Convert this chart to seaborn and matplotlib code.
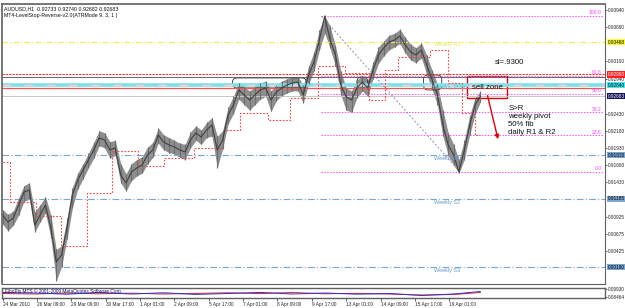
import matplotlib
matplotlib.use("Agg")
import matplotlib.pyplot as plt
import seaborn as sns
import pandas as pd
from matplotlib.patches import Rectangle, FancyBboxPatch

sns.set_theme(style="white")
plt.rcParams['font.family'] = ['Liberation Sans', 'DejaVu Sans']

# ---------------- data ----------------
bar_step = 5
close_prices = [
    0.90951, 0.90849, 0.90907, 0.91097, 0.91286, 0.91316, 0.90805, 0.90951, 0.91097, 0.90762,
    0.90266, 0.90368, 0.90762, 0.91243, 0.91461, 0.91607, 0.91753, 0.91899, 0.92074, 0.92045,
    0.91899, 0.91928, 0.91534, 0.91418, 0.91578, 0.91636, 0.91680, 0.91826, 0.91899, 0.92118,
    0.92015, 0.91972, 0.91943, 0.91899, 0.91870, 0.92045, 0.92147, 0.92088, 0.92190, 0.92263,
    0.91899, 0.92045, 0.92409, 0.92555, 0.92774, 0.92701, 0.92628, 0.92701, 0.92774, 0.92803,
    0.92628, 0.92744, 0.92803, 0.92847, 0.92876, 0.92890, 0.92701, 0.92992, 0.93182, 0.93503,
    0.93850, 0.93503, 0.93284, 0.92847, 0.92672, 0.92628, 0.92803, 0.92890, 0.92803, 0.93065,
    0.93284, 0.93386, 0.93473, 0.93503, 0.93561, 0.93430, 0.93328, 0.93284, 0.93357, 0.93138,
    0.92919, 0.92701, 0.92263, 0.91972, 0.91826, 0.91580, 0.91899, 0.92263, 0.92555, 0.92683,
]
high_prices = [
    0.91030, 0.90960, 0.91010, 0.91200, 0.91380, 0.91420, 0.91000, 0.91100, 0.91220, 0.90950,
    0.90450, 0.90500, 0.90900, 0.91350, 0.91560, 0.91700, 0.91850, 0.92010, 0.92180, 0.92150,
    0.92020, 0.92040, 0.91700, 0.91550, 0.91700, 0.91760, 0.91800, 0.91940, 0.92010, 0.92220,
    0.92120, 0.92080, 0.92040, 0.92000, 0.91980, 0.92160, 0.92250, 0.92190, 0.92300, 0.92370,
    0.92100, 0.92180, 0.92520, 0.92680, 0.92880, 0.92820, 0.92760, 0.92820, 0.92880, 0.92900,
    0.92760, 0.92850, 0.92900, 0.92940, 0.92960, 0.92970, 0.92840, 0.93120, 0.93330, 0.93650,
    0.93860, 0.93700, 0.93420, 0.93050, 0.92800, 0.92760, 0.92920, 0.92980, 0.92920, 0.93180,
    0.93400, 0.93490, 0.93570, 0.93600, 0.93660, 0.93540, 0.93440, 0.93390, 0.93460, 0.93280,
    0.93060, 0.92860, 0.92480, 0.92150, 0.91980, 0.91760, 0.92040, 0.92400, 0.92660, 0.92760,
]
low_prices = [
    0.90820, 0.90720, 0.90800, 0.90950, 0.91150, 0.91180, 0.90700, 0.90850, 0.90980, 0.90620,
    0.89990, 0.90200, 0.90600, 0.91050, 0.91330, 0.91480, 0.91640, 0.91780, 0.91960, 0.91930,
    0.91780, 0.91820, 0.91420, 0.91300, 0.91450, 0.91520, 0.91560, 0.91700, 0.91790, 0.92000,
    0.91900, 0.91860, 0.91840, 0.91790, 0.91760, 0.91930, 0.92040, 0.91980, 0.92080, 0.92100,
    0.91640, 0.91920, 0.92280, 0.92430, 0.92640, 0.92560, 0.92480, 0.92560, 0.92640, 0.92680,
    0.92460, 0.92620, 0.92690, 0.92730, 0.92760, 0.92760, 0.92580, 0.92860, 0.93050, 0.93350,
    0.93600, 0.93380, 0.93120, 0.92700, 0.92480, 0.92450, 0.92660, 0.92760, 0.92680, 0.92940,
    0.93160, 0.93270, 0.93360, 0.93400, 0.93450, 0.93310, 0.93210, 0.93170, 0.93240, 0.93000,
    0.92780, 0.92560, 0.92100, 0.91820, 0.91680, 0.91560, 0.91760, 0.92120, 0.92420, 0.92600,
]
bars = [i * bar_step for i in range(len(close_prices))]

# LevelStop-Reverse step line (bar index where each level starts, level price)
stop_bars = [0, 7, 31, 54, 79, 102, 126, 150, 178, 205, 221, 247, 268, 294, 319, 341, 356, 368, 398, 415, 428, 440, 445]
stop_levels = [0.91724, 0.91141, 0.90937, 0.90499, 0.91272, 0.91884, 0.91666, 0.91782, 0.91928, 0.92190,
               0.92438, 0.92336, 0.92657, 0.93124, 0.93021, 0.92628, 0.93065, 0.93255, 0.93357, 0.92876,
               0.92438, 0.92118, 0.92118]

# Fibonacci retracement
fib_start_bar, fib_end_bar = 297, 426
fib_high, fib_low = 0.93850, 0.91578
fib_names = ["100.0", "61.8", "50.0", "38.2", "23.6", "0.0"]
fib_prices = [0.93850, 0.92982, 0.92714, 0.92446, 0.92114, 0.91578]

# Pivot / horizontal levels
weekly_r1 = 0.93468
sl_level = 0.93000
gray_level = 0.92963
weekly_pivot = 0.92840
daily_level = 0.92803
current_price = 0.92683
weekly_s1 = 0.91820
weekly_s2 = 0.91185
weekly_s3 = 0.90190

yticks = [0.93940, 0.93690, 0.93190, 0.92940, 0.92430, 0.92180, 0.91930, 0.91680, 0.91430,
          0.90925, 0.90675, 0.90425]
ytick_labels = ["0.93940", "0.93690", "0.93190", "0.92940", "0.92430", "0.92180", "0.91930",
                "0.91680", "0.91430", "0.90925", "0.90675", "0.90425"]

time_labels = ["24 Mar 2010", "26 Mar 09:00", "29 Mar 09:00", "30 Mar 17:00", "1 Apr 01:00",
               "2 Apr 09:00", "5 Apr 17:00", "7 Apr 01:00", "8 Apr 09:00", "9 Apr 17:00",
               "13 Apr 01:00", "14 Apr 09:00", "15 Apr 17:00", "19 Apr 01:00"]
bars_per_label = 32

# indicator panel
ind_bars = [0, 30, 60, 90, 120, 150, 180, 210, 240, 270, 300, 330, 360, 390, 420, 445]
ind_red = [0.45, 0.40, 0.50, 0.42, 0.48, 0.40, 0.46, 0.52, 0.44, 0.55, 0.42, 0.47, 0.40, 0.30, 0.35, 0.55]
ind_blue = [0.55, 0.50, 0.38, 0.55, 0.40, 0.52, 0.36, 0.45, 0.56, 0.40, 0.50, 0.38, 0.45, 0.25, 0.40, 0.65]

# ---------------- figure ----------------
W, H = 625, 308
fig = plt.figure(figsize=(W / 100, H / 100), dpi=100)
fig.patch.set_facecolor("white")

ax = fig.add_axes([2 / W, 1 - 284 / H, 603 / W, 280 / H])
ax.set_facecolor("white")
xmax = 561
ax.set_xlim(-0.5, xmax)
ax.set_ylim(0.89945, 0.94027)

# horizontal levels
ax.axhline(weekly_r1, color="#f0f040", lw=0.8, ls=(0, (5, 2, 1, 2)))
ax.axhline(sl_level, color="#ff3030", lw=0.8, ls=(0, (2, 1)))
ax.axhline(gray_level, color="#505050", lw=0.6)
ax.axhline(weekly_pivot, color="#7fe0e8", lw=2.6)
ax.axhline(weekly_pivot, color="#ffd0d0", lw=1.0, ls=(0, (6, 10)))
ax.axhline(daily_level, color="#ff5050", lw=0.9)
ax.axhline(current_price, color="#c8c8c8", lw=0.7)
for lv in (weekly_s1, weekly_s2, weekly_s3):
    ax.axhline(lv, color="#7aa6d0", lw=0.8, ls=(0, (6, 2, 1, 2)))

# fib levels
for nm, fp in zip(fib_names, fib_prices):
    ax.plot([fib_start_bar, xmax - 2], [fp, fp], color="#ff50ff", lw=0.7, ls=(0, (1.5, 1.5)))
    ax.text(xmax - 3, fp + 0.0001, nm, color="#ff40ff", fontsize=3.6, ha="right", va="bottom")
ax.plot([fib_start_bar, fib_end_bar], [fib_high, fib_low], color="#8c8cb0", lw=0.7, ls=(0, (2, 2)))

# stop-reverse step line
stop_df = pd.DataFrame({"bar": stop_bars, "level": stop_levels})
ax.step(stop_df["bar"], stop_df["level"], where="post", color="#f04848", lw=0.8, ls=(0, (1.5, 1.5)))

# price (range band + closes)
price_df = pd.DataFrame({"bar": bars, "price": close_prices, "high": high_prices, "low": low_prices})
ax.fill_between(price_df["bar"], price_df["low"], price_df["high"], color="#8e8e8e", lw=0)
ax.vlines(price_df["bar"], price_df["low"], price_df["high"], color="#6e6e6e", lw=0.8)
sns.lineplot(data=price_df, x="bar", y="price", ax=ax, color="#404040", lw=0.8, legend=False)
ax.set_xlabel("")
ax.set_ylabel("")

# level texts
lab_bar = 402
ax.text(lab_bar, weekly_r1 - 0.0003, "Weekly R1", color="#e8e070", fontsize=4.0, va="center")
ax.text(lab_bar, weekly_pivot - 0.0003, "Weekly Pivot", color="#40c8d8", fontsize=4.0, va="center")
for nm, lv in (("Weekly S1", weekly_s1), ("Weekly S2", weekly_s2), ("Weekly S3", weekly_s3)):
    ax.text(lab_bar, lv - 0.0001, nm, color="#6a98c8", fontsize=4.0, va="top")

# annotations
ax.add_patch(Rectangle((432.5, 0.92657), 37.5, 0.00321, fill=False, ec="#e00000", lw=1.0))
ax.text(437, 0.92810, "sell zone", fontsize=5.6, color="#111111", va="center")
ax.text(458, 0.93180, "sl=.9300", fontsize=5.6, color="#111111", va="center")
ax.text(471, 0.92330, "S>R\nweekly pivot\n50% fib\ndaily R1 & R2", fontsize=5.6,
        color="#111111", va="center", linespacing=1.15)
ax.annotate("", xy=(462, 0.92016), xytext=(451, 0.92730),
            arrowprops=dict(arrowstyle="-|>", color="#e00000", lw=1.0, mutation_scale=6))
for (x0, x1, y0, y1) in ((214, 283, 0.92803, 0.92949), (330, 340, 0.92817, 0.92963), (392, 409, 0.92774, 0.92992)):
    ax.add_patch(FancyBboxPatch((x0, y0), x1 - x0, y1 - y0,
                                boxstyle="round,pad=0,rounding_size=4.5", fill=False,
                                ec="#303030", lw=0.6, mutation_aspect=0.000150))

# header
ax.text(0.003, 0.993, "AUDUSD,H1  0.92733 0.92740 0.92682 0.92683", transform=ax.transAxes,
        fontsize=3.8, va="top", color="#111111")
ax.text(0.003, 0.968, "MT4-LevelStop-Reverse-v2.0(ATRMode 9, 3, 1 )", transform=ax.transAxes,
        fontsize=3.8, va="top", color="#111111")

# right axis
ax.yaxis.tick_right()
ax.set_yticks(yticks)
ax.set_yticklabels(ytick_labels)
ax.tick_params(axis="y", labelsize=3.4, length=1.5, pad=0.4, colors="#222222", width=0.5)
ax.set_xticks([])
for sp in ax.spines.values():
    sp.set_color("#606060")
    sp.set_linewidth(0.8)
ax.spines["top"].set_linewidth(1.2)
ax.spines["left"].set_linewidth(1.2)

def price_box(price, text, fc, tc="black"):
    ax.text(1.004, price, text, transform=ax.get_yaxis_transform(), fontsize=3.4, va="center",
            ha="left", color=tc, bbox=dict(boxstyle="square,pad=0.12", fc=fc, ec="none"))

price_box(weekly_r1, "0.93468", "#ffff30")
price_box(sl_level, "0.92993", "#ff2020", "white")
price_box(weekly_pivot, "0.92840", "#40e8f0")
price_box(current_price, "0.92683", "#101060", "white")
price_box(weekly_s1, "0.91820", "#7aa6d0")
price_box(weekly_s2, "0.91185", "#7aa6d0")
price_box(weekly_s3, "0.90190", "#7aa6d0")

# indicator panel
ax2 = fig.add_axes([2 / W, 1 - 298 / H, 603 / W, 10 / H])
ax2.set_xlim(-0.5, xmax)
ax2.set_ylim(0, 1)
ind_df = pd.DataFrame({"bar": ind_bars, "red": ind_red, "blue": ind_blue})
sns.lineplot(data=ind_df, x="bar", y="red", ax=ax2, color="#e02020", lw=0.7, legend=False)
sns.lineplot(data=ind_df, x="bar", y="blue", ax=ax2, color="#3030d0", lw=0.7, legend=False)
ax2.text(0.005, 0.95, "FiboPiv MTS © 2001-2009 MetaQuotes Software Corp.", transform=ax2.transAxes,
         fontsize=3.4, va="top", color="#101060")
ax2.set_xlabel("")
ax2.set_ylabel("")
ax2.yaxis.tick_right()
ax2.set_yticks([0.9, 0.1])
ax2.set_yticklabels(["0.09930", "0.08464"])
ax2.tick_params(axis="y", labelsize=3.4, length=1.5, pad=0.4, width=0.5)
ax2.set_xticks([i * bars_per_label for i in range(len(time_labels))])
ax2.set_xticklabels(time_labels, ha="left")
ax2.tick_params(axis="x", labelsize=3.4, length=2, pad=1, width=0.5, direction="out", bottom=True)
for sp in ax2.spines.values():
    sp.set_color("#606060")
    sp.set_linewidth(1.0)

fig.savefig("out.png", dpi=100, facecolor="white")
